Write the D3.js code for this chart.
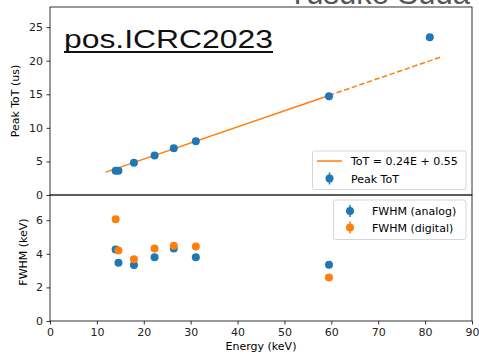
<!DOCTYPE html>
<html>
<head>
<meta charset="utf-8">
<script src="https://cdn.jsdelivr.net/npm/d3@7"></script>
<style>
body { margin: 0; background: #fff; }
text { font-family: "DejaVu Sans", sans-serif; }
</style>
</head>
<body>
<svg id="chart" width="479" height="356"></svg>
<script>
// energies of the peaks (keV)
const energy = [14.0, 14.6, 17.9, 22.3, 26.4, 31.1, 59.5, 81.0];
const peakToT = [3.6, 3.6, 4.8, 5.9, 6.95, 8.0, 14.7, 23.5];

const fwhmEnergy = [14.0, 14.6, 17.9, 22.3, 26.4, 31.1, 59.5];
const fwhmAnalog = [4.26, 3.46, 3.33, 3.79, 4.32, 3.79, 3.35];
const fwhmDigital = [6.05, 4.2, 3.67, 4.32, 4.48, 4.44, 2.59];

const fitSlope = 0.24, fitOffset = 0.55;
const fitSolid = [11.9, 59.5];
const fitDashed = [59.5, 83.2];

const xTicks = [0, 10, 20, 30, 40, 50, 60, 70, 80, 90];
const topTicks = [0, 5, 10, 15, 20, 25];
const bottomTicks = [0, 2, 4, 6];

const blue = "#1f77b4", orange = "#ff7f0e";
const fs = "11px";

let svg = d3.select("#chart");

let left = 50, right = 472,
    topY0 = 7, topY1 = 195,
    botY0 = 195, botY1 = 321;

let x = d3.scaleLinear().domain([0, 90]).range([left, right]);
let yTop = d3.scaleLinear().domain([0, 28]).range([topY1, topY0]);
let yBot = d3.scaleLinear().domain([0, 7.5]).range([botY1, botY0]);

// name at the top, clipped by the page edge
svg.append("text")
    .attr("x", 470)
    .attr("y", 4)
    .attr("text-anchor", "end")
    .style("font-family", "'Liberation Sans', Arial, sans-serif")
    .style("font-size", "31px")
    .attr("fill", "#555")
    .text("Yusuke Suda");

function styleAxis(g)
{
    g.selectAll("path").remove();
    g.selectAll("line").attr("stroke", "#000").attr("stroke-width", 0.8);
    g.selectAll("text").style("font-size", fs).attr("fill", "#222");
}

// top axis
svg.append("g")
    .attr("transform", "translate(" + left + ",0)")
    .call(d3.axisLeft(yTop).tickValues(topTicks).tickSize(3.5).tickPadding(3.5))
    .call(styleAxis);

// bottom axes
svg.append("g")
    .attr("transform", "translate(" + left + ",0)")
    .call(d3.axisLeft(yBot).tickValues(bottomTicks).tickSize(3.5).tickPadding(3.5))
    .call(styleAxis);

svg.append("g")
    .attr("transform", "translate(0," + botY1 + ")")
    .call(d3.axisBottom(x).tickValues(xTicks).tickSize(3.5).tickPadding(3.5))
    .call(styleAxis);

// frames
svg.append("rect")
    .attr("x", left).attr("y", topY0)
    .attr("width", right - left).attr("height", topY1 - topY0)
    .attr("fill", "none").attr("stroke", "#000").attr("stroke-width", 0.8);
svg.append("rect")
    .attr("x", left).attr("y", botY0)
    .attr("width", right - left).attr("height", botY1 - botY0)
    .attr("fill", "none").attr("stroke", "#000").attr("stroke-width", 0.8);

// axis labels
svg.append("text")
    .attr("transform", "translate(19," + ((topY0 + topY1) / 2) + ") rotate(-90)")
    .attr("text-anchor", "middle")
    .style("font-size", fs)
    .text("Peak ToT (us)");

svg.append("text")
    .attr("transform", "translate(27," + 252 + ") rotate(-90)")
    .attr("text-anchor", "middle")
    .style("font-size", fs)
    .text("FWHM (keV)");

svg.append("text")
    .attr("x", (left + right) / 2)
    .attr("y", 350)
    .attr("text-anchor", "middle")
    .style("font-size", fs)
    .text("Energy (keV)");

// fit line
let fit = d3.line()
    .x((d) => { return x(d); })
    .y((d) => { return yTop(fitSlope * d + fitOffset); });

svg.append("path")
    .datum(fitSolid)
    .attr("d", fit)
    .attr("fill", "none")
    .attr("stroke", orange)
    .attr("stroke-width", 1.5);

svg.append("path")
    .datum(fitDashed)
    .attr("d", fit)
    .attr("fill", "none")
    .attr("stroke", orange)
    .attr("stroke-width", 1.5)
    .attr("stroke-dasharray", "5.5,2.5");

// points
svg.append("g").selectAll("circle")
    .data(energy)
    .enter().append("circle")
    .attr("cx", (d) => { return x(d); })
    .attr("cy", (d, i) => { return yTop(peakToT[i]); })
    .attr("r", 4)
    .attr("fill", blue);

svg.append("g").selectAll("circle")
    .data(fwhmEnergy)
    .enter().append("circle")
    .attr("cx", (d) => { return x(d); })
    .attr("cy", (d, i) => { return yBot(fwhmAnalog[i]); })
    .attr("r", 4)
    .attr("fill", blue);

svg.append("g").selectAll("circle")
    .data(fwhmEnergy)
    .enter().append("circle")
    .attr("cx", (d) => { return x(d); })
    .attr("cy", (d, i) => { return yBot(fwhmDigital[i]); })
    .attr("r", 4)
    .attr("fill", orange);

// legends
function errMarker(g, cx, cy, color)
{
    g.append("line")
        .attr("x1", cx).attr("x2", cx)
        .attr("y1", cy - 6).attr("y2", cy + 6)
        .attr("stroke", color).attr("stroke-width", 1.5);
    g.append("circle")
        .attr("cx", cx).attr("cy", cy).attr("r", 4)
        .attr("fill", color);
}

let leg1 = svg.append("g");
leg1.append("rect")
    .attr("x", 312.5).attr("y", 151)
    .attr("width", 153.5).attr("height", 38.5)
    .attr("rx", 2)
    .attr("fill", "#fff").attr("fill-opacity", 0.8)
    .attr("stroke", "#ccc").attr("stroke-width", 0.8);
leg1.append("line")
    .attr("x1", 317).attr("x2", 342)
    .attr("y1", 161).attr("y2", 161)
    .attr("stroke", orange).attr("stroke-width", 1.5);
leg1.append("text")
    .attr("x", 351).attr("y", 165)
    .style("font-size", fs)
    .text("ToT = 0.24E + 0.55");
errMarker(leg1, 329.5, 178.5, blue);
leg1.append("text")
    .attr("x", 351).attr("y", 182.5)
    .style("font-size", fs)
    .text("Peak ToT");

let leg2 = svg.append("g");
leg2.append("rect")
    .attr("x", 333.5).attr("y", 200)
    .attr("width", 132.5).attr("height", 39.5)
    .attr("rx", 2)
    .attr("fill", "#fff").attr("fill-opacity", 0.8)
    .attr("stroke", "#ccc").attr("stroke-width", 0.8);
errMarker(leg2, 350, 211, blue);
leg2.append("text")
    .attr("x", 372).attr("y", 215)
    .style("font-size", fs)
    .text("FWHM (analog)");
errMarker(leg2, 350, 227.5, orange);
leg2.append("text")
    .attr("x", 372).attr("y", 231.5)
    .style("font-size", fs)
    .text("FWHM (digital)");

// overlay title
let title = svg.append("text")
    .attr("x", 64)
    .attr("y", 48)
    .attr("textLength", 209)
    .attr("lengthAdjust", "spacingAndGlyphs")
    .style("font-family", "'Liberation Sans', Arial, sans-serif")
    .style("font-size", "25.5px")
    .attr("fill", "#111")
    .text("pos.ICRC2023");

svg.append("line")
    .attr("x1", 64).attr("x2", 273)
    .attr("y1", 52).attr("y2", 52)
    .attr("stroke", "#111").attr("stroke-width", 1.8);
</script>
</body>
</html>
